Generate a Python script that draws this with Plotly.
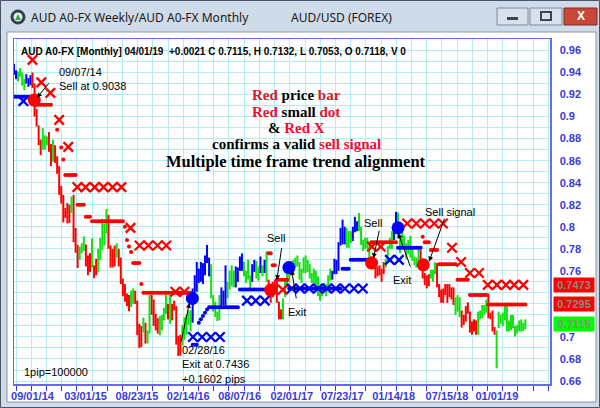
import plotly.graph_objects as go
import pandas as pd

# ---------------- data ----------------
first_week = "2014-06-30"
highs_2014 = [0.9480,0.9420,0.9410,0.9440,0.9400,0.9340,0.9385,0.9350,0.9375,0.9400,0.9300,0.9070,0.8920,0.8790,0.8895,0.8830,0.8820,0.8860,0.8750,0.8790,0.8740,0.8640,0.8550,0.8370,0.8290,0.8170,0.8215]
lows_2014 = [0.9380,0.9340,0.9320,0.9360,0.9280,0.9240,0.9300,0.9270,0.9285,0.9260,0.9000,0.8910,0.8740,0.8650,0.8700,0.8700,0.8740,0.8680,0.8550,0.8590,0.8580,0.8480,0.8290,0.8210,0.8040,0.8080,0.8030]
highs_2015 = [0.8200,0.8275,0.8290,0.7990,0.7836,0.7820,0.7850,0.7913,0.7840,0.7740,0.7760,0.7895,0.7650,0.7710,0.7800,0.7900,0.8072,0.8030,0.8163,0.8110,0.7830,0.7800,0.7830,0.7849,0.7800,0.7720,0.7530,0.7480,0.7395,0.7380,0.7420,0.7440,0.7420,0.7330,0.7120,0.7100,0.7175,0.7130,0.7060,0.7380,0.7382,0.7340,0.7210,0.7170,0.7190,0.7200,0.7265,0.7385,0.7300,0.7385,0.7300,0.7330]
lows_2015 = [0.8035,0.8125,0.7860,0.7764,0.7626,0.7700,0.7760,0.7780,0.7640,0.7560,0.7590,0.7630,0.7533,0.7560,0.7590,0.7700,0.7790,0.7830,0.7940,0.7800,0.7630,0.7630,0.7640,0.7720,0.7640,0.7480,0.7370,0.7320,0.7280,0.7234,0.7270,0.7300,0.7300,0.7016,0.6900,0.6908,0.7040,0.6940,0.6940,0.7030,0.7200,0.7100,0.7060,0.7030,0.7015,0.7060,0.7150,0.7210,0.7160,0.7120,0.7150,0.7240]
highs_2016 = [0.7280,0.7010,0.7020,0.7110,0.7180,0.7200,0.7241,0.7240,0.7440,0.7560,0.7680,0.7620,0.7681,0.7670,0.7740,0.7835,0.7720,0.7660,0.7380,0.7320,0.7230,0.7380,0.7450,0.7420,0.7650,0.7500,0.7600,0.7650,0.7600,0.7640,0.7630,0.7730,0.7758,0.7680,0.7600,0.7700,0.7560,0.7660,0.7700,0.7690,0.7640,0.7730,0.7650,0.7700,0.7778,0.7520,0.7450,0.7500,0.7520,0.7525,0.7320,0.7250]
lows_2016 = [0.6930,0.6827,0.6830,0.6920,0.6975,0.7020,0.7110,0.7050,0.7130,0.7400,0.7410,0.7490,0.7500,0.7480,0.7560,0.7670,0.7550,0.7350,0.7230,0.7180,0.7145,0.7150,0.7270,0.7290,0.7285,0.7350,0.7430,0.7460,0.7450,0.7450,0.7500,0.7600,0.7600,0.7550,0.7490,0.7520,0.7444,0.7500,0.7590,0.7530,0.7510,0.7580,0.7550,0.7580,0.7500,0.7380,0.7310,0.7360,0.7410,0.7310,0.7160,0.7160]
highs_2017 = [0.7350,0.7520,0.7600,0.7590,0.7690,0.7700,0.7720,0.7740,0.7680,0.7620,0.7720,0.7740,0.7700,0.7660,0.7580,0.7620,0.7600,0.7550,0.7450,0.7480,0.7490,0.7480,0.7560,0.7620,0.7600,0.7710,0.7700,0.7860,0.7990,0.8065,0.8000,0.7990,0.7960,0.7960,0.8000,0.8090,0.8050,0.8125,0.8000,0.7880,0.7900,0.7900,0.7850,0.7730,0.7730,0.7680,0.7640,0.7650,0.7620,0.7680,0.7710,0.7825]
lows_2017 = [0.7160,0.7360,0.7450,0.7500,0.7560,0.7560,0.7630,0.7640,0.7520,0.7490,0.7580,0.7580,0.7590,0.7530,0.7490,0.7490,0.7470,0.7370,0.7330,0.7370,0.7420,0.7370,0.7410,0.7510,0.7520,0.7570,0.7570,0.7600,0.7830,0.7840,0.7840,0.7810,0.7808,0.7850,0.7870,0.7950,0.7960,0.7960,0.7833,0.7780,0.7800,0.7800,0.7625,0.7620,0.7620,0.7532,0.7550,0.7560,0.7500,0.7570,0.7630,0.7680]
highs_2018 = [0.7900,0.7960,0.8020,0.8136,0.8130,0.7920,0.7990,0.7920,0.7850,0.7880,0.7918,0.7800,0.7730,0.7720,0.7813,0.7790,0.7650,0.7580,0.7560,0.7570,0.7610,0.7610,0.7677,0.7670,0.7480,0.7430,0.7440,0.7480,0.7480,0.7480,0.7450,0.7450,0.7360,0.7380,0.7360,0.7240,0.7200,0.7280,0.7315,0.7230,0.7140,0.7160,0.7150,0.7230,0.7240,0.7290,0.7290,0.7340,0.7394,0.7220,0.7240,0.7090,0.7060]
lows_2018 = [0.7800,0.7800,0.7880,0.7950,0.7900,0.7760,0.7800,0.7800,0.7710,0.7750,0.7720,0.7690,0.7650,0.7630,0.7690,0.7640,0.7530,0.7470,0.7440,0.7460,0.7530,0.7500,0.7570,0.7450,0.7360,0.7310,0.7310,0.7380,0.7310,0.7360,0.7340,0.7290,0.7200,0.7230,0.7180,0.7085,0.7110,0.7140,0.7210,0.7040,0.7020,0.7050,0.7020,0.7020,0.7160,0.7170,0.7200,0.7220,0.7170,0.7160,0.7050,0.7020,0.6715]
highs_2019 = [0.7230,0.7200,0.7220,0.7296,0.7280,0.7150,0.7200,0.7200,0.7100,0.7110,0.7150,0.7160,0.7130,0.7160]
lows_2019 = [0.7080,0.7120,0.7100,0.7150,0.7050,0.7050,0.7060,0.7080,0.7003,0.7030,0.7050,0.7050,0.7053,0.7070]

# bar colour state per week: R = sell (red), G = neutral (green), B = buy (blue)
state_2014 = "BBGGGGBBBRRRRRGGGRRGRRRRRRR"
state_2015 = "RGRR" "RGGG" "RRRGR" "RGGG" "GGRR" "RRGRR" "RRRR" "GGRRR" "RGRG" "GRRR" "RGGGG" "RGRR"
state_2016 = "RRRGGGGG" "BBBBBBBBB" "GGGGG" "BBB" "GGGG" "BBBB" "GGGG" "BB" "GGBGB" "G" "RRRRRRR"
state_2017 = "G" * 24 + "BBBBBBB" + "GGG" + "BBB" + "GGGGGG" + "RRRRRRR" + "GG"
state_2018 = "GGBB" + "G" * 11 + "RRRRR" + "GGG" + "R" * 9 + "GGG" + "R" * 8 + "GGGGG" + "RRRR" + "G"
state_2019 = "G" * 14

# weekly small-dot stop levels: (first week, last week, level)
red_dot_steps = [
    ("2014-09-08", "2014-11-03", 0.9107), ("2014-11-24", "2014-11-24", 0.888),
    ("2014-12-08", "2014-12-08", 0.872), ("2014-12-15", "2014-12-15", 0.861),
    ("2014-12-22", "2015-01-26", 0.847), ("2015-02-02", "2015-02-23", 0.820),
    ("2015-03-02", "2015-03-16", 0.809), ("2015-03-23", "2015-07-06", 0.805),
    ("2015-07-13", "2015-07-13", 0.800), ("2015-07-20", "2015-07-20", 0.788),
    ("2015-07-27", "2015-07-27", 0.782), ("2015-08-03", "2015-08-03", 0.777),
    ("2015-08-10", "2015-08-31", 0.767), ("2015-09-07", "2015-09-07", 0.748),
    ("2015-09-14", "2016-02-22", 0.740),
    ("2016-11-14", "2016-11-21", 0.776), ("2016-11-28", "2016-12-05", 0.765),
    ("2016-12-12", "2017-01-16", 0.752),
    ("2017-10-30", "2018-01-22", 0.786),
    ("2018-04-23", "2018-04-23", 0.791), ("2018-04-30", "2018-05-14", 0.786),
    ("2018-05-21", "2018-06-11", 0.779), ("2018-06-18", "2018-08-13", 0.766),
    ("2018-08-20", "2018-09-24", 0.752), ("2018-10-01", "2018-11-26", 0.738),
    ("2018-12-03", "2019-04-08", 0.7295),
]
blue_dot_steps = [
    ("2014-06-30", "2014-08-25", 0.918),
    ("2016-02-29", "2016-03-14", 0.693), ("2016-03-21", "2016-03-21", 0.713),
    ("2016-03-28", "2016-03-28", 0.716), ("2016-04-04", "2016-04-04", 0.719),
    ("2016-04-11", "2016-04-11", 0.722), ("2016-04-18", "2016-04-18", 0.725),
    ("2016-04-25", "2016-08-01", 0.727), ("2016-08-08", "2016-11-07", 0.743),
    ("2017-01-23", "2017-07-17", 0.744), ("2017-07-24", "2017-08-14", 0.762),
    ("2017-08-21", "2017-10-23", 0.770),
    ("2018-01-29", "2018-04-16", 0.781),
]

# monthly X markers
red_x_months = ["2014-09", "2014-10", "2014-11", "2014-12", "2015-01", "2015-02", "2015-03", "2015-04",
                "2015-05", "2015-06", "2015-07", "2015-08", "2015-09", "2015-10", "2015-11", "2015-12",
                "2016-01", "2016-02", "2016-12", "2017-01", "2017-11", "2017-12",
                "2018-03", "2018-04", "2018-05", "2018-06", "2018-07", "2018-08", "2018-09", "2018-10",
                "2018-11", "2018-12", "2019-01", "2019-02", "2019-03", "2019-04"]
red_x_levels = [0.9515, 0.931, 0.9215, 0.897, 0.8725, 0.836, 0.836, 0.836,
                0.836, 0.836, 0.836, 0.799, 0.783, 0.783, 0.783, 0.783,
                0.741, 0.741, 0.743, 0.743, 0.782, 0.782,
                0.803, 0.803, 0.803, 0.803, 0.803, 0.781, 0.768, 0.758,
                0.758, 0.7473, 0.7473, 0.7473, 0.7473, 0.7473]
blue_x_months = ["2014-08", "2016-03", "2016-04", "2016-05", "2016-06", "2016-09", "2016-10", "2016-11",
                 "2017-02", "2017-03", "2017-04", "2017-05", "2017-06", "2017-07", "2017-08", "2017-09",
                 "2017-10", "2018-01", "2018-02"]
blue_x_levels = [0.914, 0.700, 0.700, 0.700, 0.700, 0.733, 0.733, 0.733,
                 0.744, 0.744, 0.744, 0.744, 0.744, 0.744, 0.744, 0.744,
                 0.744, 0.770, 0.770]

# large signal dots
sell_dates = ["2014-09-07", "2016-11-21", "2017-10-31", "2018-04-25"]
sell_levels = [0.915, 0.7425, 0.767, 0.7655]
exit_dates = ["2016-02-28", "2017-01-22", "2018-01-29"]
exit_levels = [0.735, 0.763, 0.799]

x_tick_dates = ["2014-09-01", "2015-03-01", "2015-08-23", "2016-02-14", "2016-08-07",
                "2017-02-01", "2017-07-23", "2018-01-14", "2018-07-15", "2019-01-01"]
x_tick_text = ["09/01/14", "03/01/15", "08/23/15", "02/14/16", "08/07/16",
               "02/01/17", "07/23/17", "01/14/18", "07/15/18", "01/01/19"]
y_tick_values = [0.66, 0.68, 0.70, 0.76, 0.78, 0.80, 0.82, 0.84, 0.86, 0.88, 0.90, 0.92, 0.94, 0.96]
y_tick_text = ["0.66", "0.68", "0.7", "0.76", "0.78", "0.8", "0.82", "0.84", "0.86", "0.88", "0.9", "0.92", "0.94", "0.96"]

last_levels = [0.7473, 0.7295, 0.7115]
last_level_colors = ["#ff0000", "#ff0000", "#00ff00"]

# ---------------- build ----------------
highs = highs_2014 + highs_2015 + highs_2016 + highs_2017 + highs_2018 + highs_2019
lows = lows_2014 + lows_2015 + lows_2016 + lows_2017 + lows_2018 + lows_2019
states = state_2014 + state_2015 + state_2016 + state_2017 + state_2018 + state_2019
weeks = pd.date_range(first_week, periods=len(highs), freq="7D")

RED, GREEN, BLUE = "#ff0000", "#11e011", "#0000ff"
AXC = "#3a3ad8"
CRIMSON = "#e5132f"
GRID = "#b4eef2"

fig = go.Figure()

for key, col in (("R", RED), ("G", GREEN), ("B", BLUE)):
    xs, ys = [], []
    for d, h, l, s in zip(weeks, highs, lows, states):
        if s == key:
            xs += [d, d, None]
            ys += [l, h, None]
    fig.add_trace(go.Scatter(x=xs, y=ys, mode="lines", line=dict(color=col, width=2),
                             hoverinfo="skip", showlegend=False))


def expand(steps):
    xs, ys = [], []
    for a, b, v in steps:
        for d in weeks:
            if pd.Timestamp(a) <= d <= pd.Timestamp(b):
                xs.append(d)
                ys.append(v)
    return xs, ys


for steps, col in ((red_dot_steps, RED), (blue_dot_steps, BLUE)):
    xs, ys = expand(steps)
    fig.add_trace(go.Scatter(x=xs, y=ys, mode="markers", marker=dict(color=col, size=4),
                             showlegend=False, hoverinfo="skip"))

for months, levels, col in ((red_x_months, red_x_levels, RED), (blue_x_months, blue_x_levels, BLUE)):
    fig.add_trace(go.Scatter(x=[m + "-01" for m in months], y=levels, mode="markers",
                             marker=dict(symbol="x-thin", size=9.5, line=dict(color=col, width=2.3)),
                             showlegend=False, hoverinfo="skip"))

fig.add_trace(go.Scatter(x=sell_dates, y=sell_levels, mode="markers",
                         marker=dict(color=RED, size=13), showlegend=False, hoverinfo="skip"))
fig.add_trace(go.Scatter(x=exit_dates, y=exit_levels, mode="markers",
                         marker=dict(color=BLUE, size=13), showlegend=False, hoverinfo="skip"))

# ---------------- layout helpers (pixel -> paper) ----------------
L, R, T, B = 14, 550, 39, 384


def px(x):
    return (x - L) / (R - L)


def py(y):
    return (B - y) / (B - T)


day_ms = 86400000
fig.update_layout(
    width=600, height=408, autosize=False,
    margin=dict(l=L, r=600 - R, t=T, b=408 - B, pad=0),
    paper_bgcolor="white", plot_bgcolor="white",
    showlegend=False,
    xaxis=dict(type="date", range=["2014-06-30", "2019-07-01"], automargin=False,
               tickvals=x_tick_dates, ticktext=x_tick_text,
               tickfont=dict(family="Liberation Sans, Arial", size=11, color=AXC, weight="bold"),
               ticks="outside", ticklen=1, tickcolor="rgba(0,0,0,0)",
               showgrid=False, zeroline=False,
               showline=True, mirror=True, linecolor="#6a6ae8", linewidth=1.5,
               minor=dict(tick0="2014-07-07", dtick=51.84 * day_ms, ticks="outside", ticklen=5,
                          tickcolor=AXC, showgrid=True, gridcolor=GRID, gridwidth=1)),
    yaxis=dict(side="right", range=[0.6573, 0.9704], automargin=False,
               tickvals=y_tick_values, ticktext=y_tick_text,
               tickfont=dict(family="Liberation Sans, Arial", size=11, color=AXC, weight="bold"),
               ticks="outside", ticklen=6, tickcolor="rgba(0,0,0,0)",
               showgrid=True, gridcolor=GRID, zeroline=False,
               showline=True, mirror=True, linecolor="#6a6ae8", linewidth=1.5,
               minor=dict(tick0=0, dtick=0.01, showgrid=True, gridcolor=GRID)),
)

shapes = []
# window chrome
for x0, x1, y0, y1 in ((0, 600, 0, 32), (0, 7, 32, 408), (596, 600, 32, 408), (0, 600, 402, 408)):
    shapes.append(dict(type="rect", xref="paper", yref="paper", x0=px(x0), x1=px(x1), y0=py(y0), y1=py(y1),
                       fillcolor="#cfdbe8", line=dict(width=0), layer="below"))
shapes.append(dict(type="rect", xref="paper", yref="paper", x0=px(7), x1=px(596), y0=py(32), y1=py(402),
                   fillcolor="rgba(0,0,0,0)", line=dict(color="#8a97a6", width=1), layer="below"))
shapes.append(dict(type="rect", xref="paper", yref="paper", x0=px(0.5), x1=px(599.5), y0=py(0.5), y1=py(407.5),
                   fillcolor="rgba(0,0,0,0)", line=dict(color="#4a5563", width=1), layer="below"))
# icon
shapes.append(dict(type="circle", xref="paper", yref="paper", x0=px(11), x1=px(25), y0=py(10), y1=py(24),
                   fillcolor="#2f3d4c", line=dict(color="#2f3d4c", width=1)))
shapes.append(dict(type="circle", xref="paper", yref="paper", x0=px(13.5), x1=px(22.5), y0=py(12.5), y1=py(21.5),
                   fillcolor="#e8eef3", line=dict(width=0)))
shapes.append(dict(type="path", xref="paper", yref="paper",
                   path=f"M {px(15)},{py(20)} L {px(21)},{py(20)} L {px(18)},{py(14)} Z",
                   fillcolor="#3aa63a", line=dict(width=0)))
# buttons
for x0, x1, fill, edge in ((497, 528, "#d6e1ec", "#7b8b9c"), (530, 562, "#d6e1ec", "#7b8b9c"),
                           (564, 597, "#c9483a", "#7e2a21")):
    shapes.append(dict(type="rect", xref="paper", yref="paper", x0=px(x0), x1=px(x1), y0=py(8), y1=py(25),
                       fillcolor=fill, line=dict(color=edge, width=1)))
shapes.append(dict(type="rect", xref="paper", yref="paper", x0=px(507), x1=px(518), y0=py(17), y1=py(20),
                   fillcolor="#3d4650", line=dict(width=0)))
shapes.append(dict(type="rect", xref="paper", yref="paper", x0=px(541), x1=px(551), y0=py(12), y1=py(20),
                   fillcolor="rgba(0,0,0,0)", line=dict(color="#3d4650", width=2)))
fig.update_layout(shapes=shapes)

ann = []
ann.append(dict(xref="paper", yref="paper", x=px(29), y=py(17), xanchor="left", yanchor="middle",
                text="AUD A0-FX Weekly/AUD A0-FX Monthly", showarrow=False,
                font=dict(family="Noto Sans", size=12, color="#1a1a1a")))
ann.append(dict(xref="paper", yref="paper", x=px(289), y=py(17), xanchor="left", yanchor="middle",
                text="AUD/USD (FOREX)", showarrow=False,
                font=dict(family="Noto Sans", size=12, color="#1a1a1a")))
ann.append(dict(xref="paper", yref="paper", x=px(580.5), y=py(16.5), xanchor="center", yanchor="middle",
                text="X", showarrow=False,
                font=dict(family="Liberation Sans", size=12, color="white", weight="bold")))
ann.append(dict(xref="paper", yref="paper", x=px(19), y=py(51.5), xanchor="left", yanchor="middle",
                text="AUD A0-FX [Monthly] 04/01/19  +0.0021 C 0.7115, H 0.7132, L 0.7053, O 0.7118, V 0",
                showarrow=False, font=dict(family="Liberation Sans", size=10, color="black", weight="bold")))
ann.append(dict(xref="paper", yref="paper", x=px(22), y=py(372), xanchor="left", yanchor="middle",
                text="1pip=100000", showarrow=False,
                font=dict(family="Liberation Sans", size=11, color="black")))

red = lambda s: f"<span style='color:{CRIMSON}'>{s}</span>"
center_lines = [(95, 15, f"{red('Red')} price {red('bar')}"),
                (112, 15, f"{red('Red')} small {red('dot')}"),
                (128, 15, f"&amp; {red('Red X')}"),
                (144, 15, f"confirms a valid {red('sell signal')}"),
                (161, 16.5, "Multiple time frame trend alignment")]
for yy, fs, t in center_lines:
    ann.append(dict(xref="paper", yref="paper", x=px(296), y=py(yy), xanchor="center", yanchor="middle",
                    text=t, showarrow=False,
                    font=dict(family="Liberation Serif", size=fs, color="black", weight="bold")))

note_font = dict(family="Liberation Sans", size=11, color="black")
notes = [("2014-11-23", 0.9339, "left", "09/07/14<br>Sell at 0.9038"),
         ("2016-01-17", 0.6750, "left", "02/28/16<br>Exit at 0.7436<br>+0.1602 pips"),
         ("2016-12-09", 0.7896, "center", "Sell"),
         ("2017-02-20", 0.7230, "center", "Exit"),
         ("2017-11-04", 0.8032, "center", "Sell"),
         ("2018-02-12", 0.7517, "center", "Exit"),
         ("2018-07-24", 0.8138, "center", "Sell signal")]
for d, v, xa, t in notes:
    ann.append(dict(x=d, y=v, xref="x", yref="y", xanchor=xa, yanchor="middle", text=t, align="left",
                    showarrow=False, font=note_font))

arrows = [("2014-10-31", 0.9316, "2014-09-16", 0.9170),
          ("2016-01-20", 0.6945, "2016-02-18", 0.7309),
          ("2016-12-29", 0.7820, "2016-12-12", 0.7517),
          ("2017-02-17", 0.7336, "2017-01-31", 0.7608),
          ("2017-11-27", 0.7978, "2017-11-06", 0.7714),
          ("2018-03-14", 0.7624, "2018-01-30", 0.7941),
          ("2018-07-08", 0.8087, "2018-05-15", 0.7684)]
for d0, v0, d1, v1 in arrows:
    ann.append(dict(x=d1, y=v1, ax=d0, ay=v0, xref="x", yref="y", axref="x", ayref="y", text="",
                    showarrow=True, arrowhead=2, arrowsize=1, arrowwidth=1, arrowcolor="black"))

for v, c in zip(last_levels, last_level_colors):
    ann.append(dict(xref="paper", yref="y", x=px(553), y=v, xanchor="left", yanchor="middle",
                    text=f"{v:.4f}", showarrow=False, bgcolor=c, width=38, height=12,
                    font=dict(family="Liberation Sans", size=11, color="#8a8a8a", weight="bold")))

fig.update_layout(annotations=ann)
fig.write_html("out.html", config={"displayModeBar": False, "staticPlot": True},
               post_script="document.body.style.margin='0px';document.body.style.overflow='hidden';")
